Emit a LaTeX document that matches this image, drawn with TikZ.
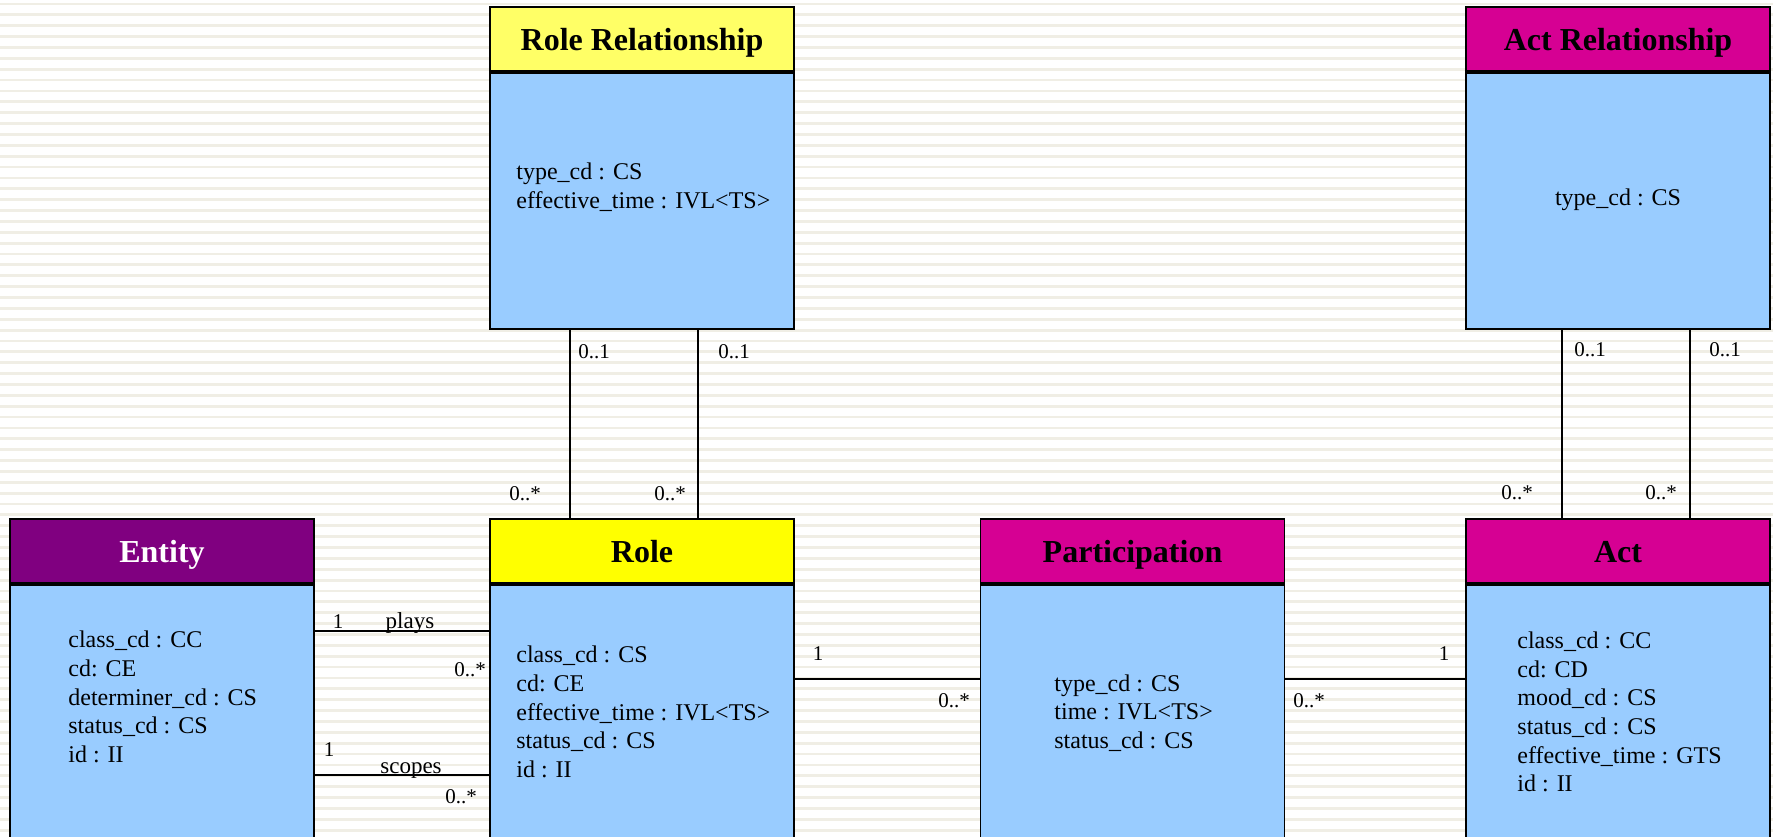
\documentclass[tikz,border=0pt]{standalone}
\usepackage{fontspec}
\setmainfont{Liberation Serif}
\definecolor{bodyblue}{HTML}{99CCFF}
\definecolor{entpurple}{HTML}{800080}
\definecolor{roleyellow}{HTML}{FFFF00}
\definecolor{relyellow}{HTML}{FFFF66}
\definecolor{actmag}{HTML}{D60093}
\definecolor{stripecol}{HTML}{F0EEE5}
\tikzset{
  hdr/.style={draw=black, line width=0.9pt, minimum width=152pt, minimum height=32pt, inner sep=0pt, text height=12pt, text depth=1pt, font=\bfseries\fontsize{16}{19}\selectfont},
  bodybox/.style={draw=black, line width=0.9pt, fill=bodyblue, minimum width=152pt, anchor=north, inner sep=0pt},
  attr/.style={align=left, anchor=west, inner sep=0pt, font=\fontsize{12}{14.35}\selectfont},
  mult/.style={inner sep=0pt, font=\fontsize{10.5}{12}\selectfont},
  rname/.style={inner sep=0pt, anchor=base, font=\fontsize{11.5}{13}\selectfont},
  conn/.style={line width=0.7pt},
  stripe/.style={draw=stripecol, line width=1.4pt}
}
\begin{document}
\begin{tikzpicture}[x=0.5pt,y=-0.5pt]
\useasboundingbox (0,0) rectangle (1773,836);
\clip (0,0) rectangle (1773,836);
\fill[white] (0,0) rectangle (1773,836);
\foreach \i in {0,...,77} \draw[stripe] (0,{4+10.87*\i}) -- (1773,{4+10.87*\i});

% top boxes
\node[hdr, fill=relyellow] (rrh) at (642,39) {Role Relationship};
\node[bodybox, minimum height=128pt] (rrb) at (rrh.south) {};
\node[hdr, fill=actmag] (arh) at (1618,39) {Act Relationship};
\node[bodybox, minimum height=128pt] (arb) at (arh.south) {};

% bottom boxes
\node[hdr, fill=entpurple, text=white] (enth) at (162,551) {Entity};
\node[bodybox, minimum height=150pt] (entb) at (enth.south) {};
\node[hdr, fill=roleyellow] (roleh) at (642,551) {Role};
\node[bodybox, minimum height=150pt] (roleb) at (roleh.south) {};
\node[hdr, fill=actmag] (parth) at (1132.5,551) {Participation};
\node[bodybox, minimum height=150pt] (partb) at (parth.south) {};
\node[hdr, fill=actmag] (acth) at (1618,551) {Act};
\node[bodybox, minimum height=150pt] (actb) at (acth.south) {};

% attributes
\node[attr] (rrattr) at (516,187) {type\_cd : CS\\effective\_time : IVL<TS>};
\node[attr, anchor=center] (arattr) at (1618,200) {type\_cd : CS};
\node[attr] (entattr) at (68,697) {class\_cd : CC\\cd: CE\\determiner\_cd : CS\\status\_cd : CS\\id : II};
\node[attr] (roleattr) at (516,712) {class\_cd : CS\\cd: CE\\effective\_time : IVL<TS>\\status\_cd : CS\\id : II};
\node[attr] (partattr) at (1054,713) {type\_cd : CS\\time : IVL<TS>\\status\_cd : CS};
\node[attr] (actattr) at (1517,712) {class\_cd : CC\\cd: CD\\mood\_cd : CS\\status\_cd : CS\\effective\_time : GTS\\id : II};

% connectors
\draw[conn] (570,0 |- rrb.south) -- (570,0 |- roleh.north);
\draw[conn] (698,0 |- rrb.south) -- (698,0 |- roleh.north);
\draw[conn] (1562,0 |- arb.south) -- (1562,0 |- acth.north);
\draw[conn] (1690,0 |- arb.south) -- (1690,0 |- acth.north);
\draw[conn] (entb.east |- 0,631) -- (roleb.west |- 0,631);
\draw[conn] (entb.east |- 0,775) -- (roleb.west |- 0,775);
\draw[conn] (roleb.east |- 0,679) -- (partb.west |- 0,679);
\draw[conn] (partb.east |- 0,679) -- (actb.west |- 0,679);

% multiplicities
\node[mult] (m1) at (594,352) {0..1};
\node[mult] (m2) at (734,352) {0..1};
\node[mult] (m3) at (525,494) {0..*};
\node[mult] (m4) at (670,494) {0..*};
\node[mult] (m5) at (1590,350) {0..1};
\node[mult] (m6) at (1725,350) {0..1};
\node[mult] (m7) at (1517,493) {0..*};
\node[mult] (m8) at (1661,493) {0..*};
\node[mult] (m9) at (338,622) {1};
\node[mult] (m10) at (470,670) {0..*};
\node[mult] (m11) at (329,750) {1};
\node[mult] (m12) at (461,797) {0..*};
\node[mult] (m13) at (818,654) {1};
\node[mult] (m14) at (954,701) {0..*};
\node[mult] (m15) at (1444,654) {1};
\node[mult] (m16) at (1309,701) {0..*};

% role names
\node[rname] (plays) at (410,628) {plays};
\node[rname] (scopes) at (411,773) {scopes};
\end{tikzpicture}
\end{document}
